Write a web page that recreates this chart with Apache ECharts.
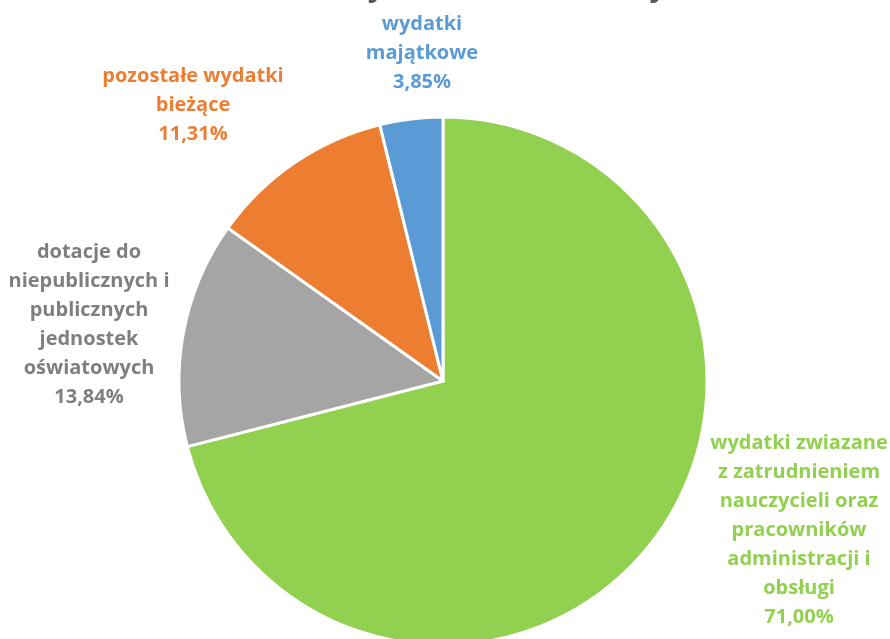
<!DOCTYPE html>
<html>
<head>
<meta charset="utf-8">
<script src="https://cdn.jsdelivr.net/npm/echarts@6/dist/echarts.min.js"></script>
<style>html,body{margin:0;padding:0;background:#fff}#c{width:890px;height:639px}</style>
</head>
<body>
<div id="c"></div>
<script>
const titleText = 'Struktura wydatków oświatowych';
const categories = [
  'wydatki zwiazane\nz zatrudnieniem\nnauczycieli oraz\npracowników\nadministracji i\nobsługi',
  'dotacje do\nniepublicznych i\npublicznych\njednostek\noświatowych',
  'pozostałe wydatki\nbieżące',
  'wydatki\nmajątkowe'
];
const values = [71.00, 13.84, 11.31, 3.85];
const sliceColors = ['#92D050', '#A5A5A5', '#ED7D31', '#5B9BD5'];
const labelColors = ['#92D050', '#7F7F7F', '#ED7D31', '#5B9BD5'];
// label block centre offsets from pie centre (px): layout styling only
const labelOffsets = [[356, 149], [-354, -56], [-250, -276], [-21, -328]];

const CX = 443, CY = 381, R = 264;
const chart = echarts.init(document.getElementById('c'));
chart.setOption({
  animation: false,
  title: {
    text: titleText, left: 'center', top: -33,
    textStyle: { fontFamily: 'Open Sans', fontWeight: 'bold', fontSize: 30, color: '#595959' }
  },
  series: [{
    type: 'pie',
    center: [CX, CY],
    radius: R,
    startAngle: 90,
    clockwise: true,
    itemStyle: { borderColor: '#fff', borderWidth: 3 },
    labelLine: { show: false },
    label: {
      show: true,
      position: 'outside',
      overflow: 'none',
      fontFamily: 'Open Sans',
      fontWeight: 'bold',
      fontSize: 20,
      lineHeight: 29,
      formatter: p => p.name + '\n' + p.value.toFixed(2).replace('.', ',') + '%'
    },
    labelLayout: p => {
      const o = labelOffsets[p.dataIndex];
      return { x: CX + o[0], y: CY + o[1], align: 'center', verticalAlign: 'middle' };
    },
    data: categories.map((n, i) => ({
      name: n, value: values[i],
      itemStyle: { color: sliceColors[i] },
      label: { color: labelColors[i] }
    }))
  }]
});
</script>
</body>
</html>
